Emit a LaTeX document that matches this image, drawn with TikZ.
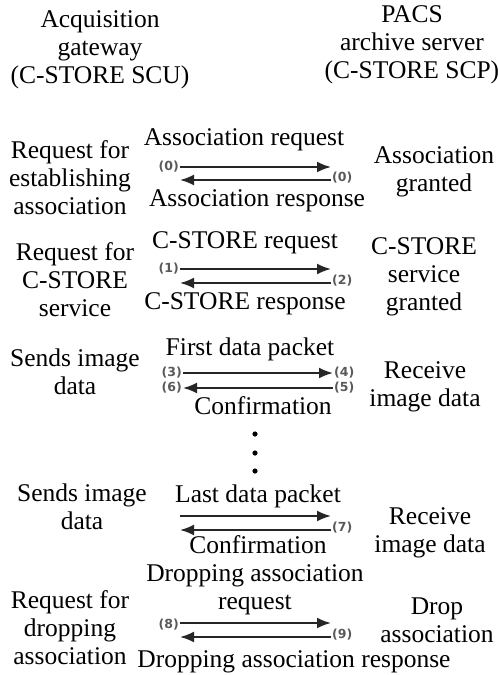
\documentclass[tikz,border=0pt]{standalone}
\usepackage{fontspec}
\setmainfont{Liberation Serif}
\newfontfamily\numfont{DejaVu Sans}
\usetikzlibrary{arrows.meta}
\tikzset{
  txt/.style={align=center, inner sep=0pt, font=\fontsize{25.5}{28}\selectfont},
  num/.style={inner sep=1pt, text=black!65, font=\numfont\bfseries\fontsize{12.5}{14}\selectfont},
  msg/.style={line width=2pt, draw=black!85, -{Latex[length=14pt,width=11pt]}}
}
\begin{document}
\begin{tikzpicture}[x=1pt,y=-1pt]
\useasboundingbox (0,0) rectangle (498,675);
% header
\node[txt] (scu) at (100,50) {Acquisition\\gateway\\(C-STORE SCU)};
\node[txt] (scp) at (412,45) {PACS\\archive server\\(C-STORE SCP)};

% association
\node[txt] (assocreq) at (70,178) {Request for\\establishing\\association};
\node[txt] (assocok) at (434,172) {Association\\granted};
\node[txt] (m0a) at (244,140) {Association request};
\node[txt] (m0b) at (257,201) {Association response};
\coordinate (a0) at (180,167); \coordinate (b0) at (331,167);
\coordinate (c0) at (331,180); \coordinate (d0) at (180,180);
\node[num,anchor=east] (n0a) at (a0) {(0)};
\node[num,anchor=west] (n0b) at ([yshift=2]c0) {(0)};
\draw[msg] (a0) -- (b0);
\draw[msg] (c0) -- (d0);

% c-store
\node[txt] (storereq) at (75,280) {Request for\\C-STORE\\service};
\node[txt] (storeok) at (424,277) {C-STORE\\service\\granted};
\node[txt] (m1a) at (245,243) {C-STORE request};
\node[txt] (m1b) at (245,304) {C-STORE response};
\coordinate (a1) at (180,269); \coordinate (b1) at (331,269);
\coordinate (c1) at (331,283); \coordinate (d1) at (180,283);
\node[num,anchor=east] (n1) at (a1) {(1)};
\node[num,anchor=west] (n2) at ([yshift=2]c1) {(2)};
\draw[msg] (a1) -- (b1);
\draw[msg] (c1) -- (d1);

% first packet
\node[txt] (send1) at (75,372) {Sends image\\data};
\node[txt] (recv1) at (425,387) {Receive\\image data};
\node[txt] (m3a) at (250,349) {First data packet};
\node[txt] (m3b) at (263,406) {Confirmation};
\coordinate (a3) at (183,373); \coordinate (b3) at (333,373);
\coordinate (c3) at (333,388); \coordinate (d3) at (183,388);
\node[num,anchor=east] (n3) at (a3) {(3)};
\node[num,anchor=west] (n4) at (b3) {(4)};
\node[num,anchor=west] (n5) at (c3) {(5)};
\node[num,anchor=east] (n6) at (d3) {(6)};
\draw[msg] (a3) -- (b3);
\draw[msg] (c3) -- (d3);

% dots
\fill (255,434) circle (2.6) (255,453) circle (2.6) (255,471) circle (2.6);

% last packet
\node[txt] (send2) at (82,507) {Sends image\\data};
\node[txt] (recv2) at (430,533) {Receive\\image data};
\node[txt] (m7a) at (258,496) {Last data packet};
\node[txt] (m7b) at (258,545) {Confirmation};
\coordinate (a7) at (180,516); \coordinate (b7) at (331,516);
\coordinate (c7) at (331,530); \coordinate (d7) at (180,530);
\node[num,anchor=west] (n7) at ([yshift=2]c7) {(7)};
\draw[msg] (a7) -- (b7);
\draw[msg] (c7) -- (d7);

% release
\node[txt] (dropreq) at (70,628) {Request for\\dropping\\association};
\node[txt] (dropok) at (437,620) {Drop\\association};
\node[txt] (m8a) at (255,590) {Dropping association\\request};
\node[txt] (m8b) at (294,662) {Dropping association response};
\coordinate (a8) at (180,623); \coordinate (b8) at (331,623);
\coordinate (c8) at (331,637); \coordinate (d8) at (180,637);
\node[num,anchor=east] (n8) at ([yshift=-2]a8) {(8)};
\node[num,anchor=west] (n9) at ([yshift=2]c8) {(9)};
\draw[msg] (a8) -- (b8);
\draw[msg] (c8) -- (d8);
\end{tikzpicture}
\end{document}
